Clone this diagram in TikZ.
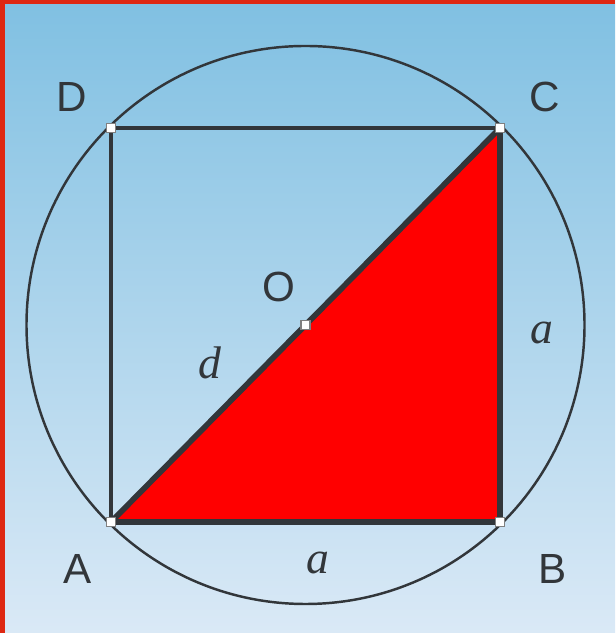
\documentclass[tikz,border=0pt]{standalone}
\usepackage{fontspec}
\setmainfont{Liberation Sans}
\newfontfamily\mathserif{Liberation Serif}
\usepackage{tikz}
\usetikzlibrary{calc, positioning}

\definecolor{frame}{RGB}{222,40,18}
\definecolor{skytop}{RGB}{128,192,226}
\definecolor{skybot}{RGB}{218,233,246}
\definecolor{ink}{RGB}{50,54,58}

\begin{document}
\begin{tikzpicture}[
    vertex/.style={draw=gray, fill=white, line width=0.4pt, minimum size=0.09cm, inner sep=0pt},
    letter/.style={text=ink, font=\fontsize{12}{14}\selectfont},
    side/.style={text=ink, font=\mathserif\itshape\fontsize{13}{15}\selectfont}
]
    % --- Background and frame ---
    \useasboundingbox (0,0) rectangle (6.15,6.33);
    \shade[top color=skytop, bottom color=skybot] (0,0) rectangle (6.15,6.33);
    \fill[frame] (0,0) rectangle (0.05,6.33);
    \fill[frame] (0,6.29) rectangle (6.15,6.33);

    % --- Square and centre ---
    \coordinate (A) at (1.11,1.11);
    \coordinate (B) at (5.00,1.11);
    \coordinate (C) at (5.00,5.05);
    \coordinate (D) at (1.11,5.05);
    \coordinate (O) at ($(A)!0.5!(C)$);

    % --- Circumscribed circle ---
    \draw[ink, line width=0.7pt] (O) circle (2.79);

    % --- Red triangle ---
    \fill[red] (A) -- (B) -- (C) -- cycle;
    \draw[ink, line width=1pt] (A) -- (D) -- (C);
    \draw[ink, line width=1.6pt, line join=round] (A) -- (B) -- (C) -- cycle;

    % --- Vertices ---
    \foreach \p in {A, B, C, D, O}
        \node[vertex] at (\p) {};

    % --- Labels ---
    \node[letter] (labA) at (0.78,0.64) {A};
    \node[letter] (labB) at (5.53,0.64) {B};
    \node[letter] (labC) at (5.45,5.36) {C};
    \node[letter] (labD) at (0.72,5.36) {D};
    \node[letter] (labO) at (2.79,3.46) {O};
    \node[side] (labd) at (2.10,2.70) {d};
    \node[side] (labBC) at (5.42,3.00) {a};
    \node[side] (labAB) at (3.18,0.70) {a};
\end{tikzpicture}
\end{document}
